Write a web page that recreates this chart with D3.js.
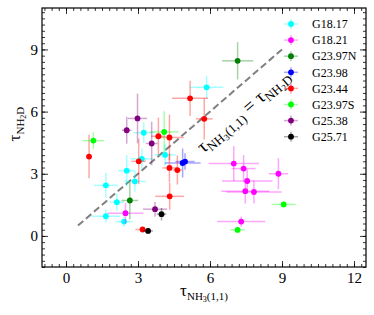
<!DOCTYPE html>
<html>
<head>
    <script src="https://d3js.org/d3.v7.min.js"></script>
    <style>
        body { margin: 0; background: #fff; }
        text { font-family: "Liberation Serif", "Times New Roman", Times, serif; }
    </style>
</head>
<body>
    <svg width="374" height="315"></svg>
    <script>

        // each point: [tauNH3, tauNH2D, xerr, yerr]
        const G18_17 = [[5.86, 7.17, 0.7, 0.55], [3.24, 4.98, 0.43, 0.5], [3.16, 3.72, 0.47, 0.5], [4.13, 3.91, 0.45, 0.55],
            [2.53, 3.15, 0.35, 0.75], [2.87, 2.63, 0.45, 0.5], [1.66, 2.44, 0.5, 0.6], [2.12, 1.63, 0.3, 0.4],
            [1.66, 0.95, 0.6, 0.3], [2.42, 0.69, 0.35, 0.25]];
        const G18_21 = [[2.48, 1.10, 0.75, 0.5], [6.99, 3.49, 1.05, 0.85], [7.40, 3.25, 0.5, 0.65], [7.55, 2.65, 1.05, 0.55],
            [7.47, 2.16, 1.0, 0.6], [7.83, 2.12, 1.15, 0.55], [8.85, 3.0, 0.4, 0.75], [7.30, 0.69, 1.0, 0.25]];
        const G23_97N = [[7.15, 8.45, 0.65, 0.9], [2.66, 1.71, 0.35, 0.9]];
        const G23_98 = [[4.86, 3.52, 0.75, 0.7], [4.96, 3.59, 0.4, 0.4]];
        const G23_44 = [[5.17, 6.64, 0.75, 0.85], [5.76, 5.65, 0.35, 1.0], [3.85, 4.81, 0.3, 0.9], [4.31, 4.75, 0.6, 1.1],
            [0.96, 3.83, 0.1, 1.05], [3.03, 3.60, 0.3, 1.1], [4.31, 3.28, 0.3, 0.7], [4.64, 3.18, 0.2, 0.7],
            [4.32, 1.91, 0.6, 0.65], [3.19, 0.31, 0.3, 0.1]];
        const G23_97S = [[1.14, 4.60, 0.45, 0.4], [4.09, 5.02, 0.6, 1.0], [9.07, 1.52, 0.5, 0.15], [7.15, 0.29, 0.3, 0.1]];
        const G25_38 = [[2.98, 5.67, 0.4, 1.2], [2.53, 5.10, 0.2, 0.65], [3.57, 4.46, 0.25, 1.05], [3.71, 1.29, 0.5, 0.35]];
        const G25_71 = [[3.98, 1.05, 0.2, 0.3], [3.42, 0.24, 0.2, 0.1]];

        const names = ["G18.17", "G18.21", "G23.97N", "G23.98", "G23.44", "G23.97S", "G25.38", "G25.71"];
        const colors = ["#00ffff", "#ff00ff", "#008000", "#0000ff", "#ff0000", "#00ff00", "#800080", "#000000"];
        const seriesData = [G18_17, G18_21, G23_97N, G23_98, G23_44, G23_97S, G25_38, G25_71];

        const xTicks = [0, 3, 6, 9, 12];
        const yTicks = [0, 3, 6, 9];
        const oneToOne = [0.5, 9];

        const svg = d3.select("svg"),
            margin = { top: 8, right: 8, bottom: 48, left: 42 },
            width = +svg.attr("width") - margin.left - margin.right,
            height = +svg.attr("height") - margin.top - margin.bottom,
            g = svg.append("g").attr("transform", "translate(" + margin.left + "," + margin.top + ")");

        const x = d3.scaleLinear().domain([-1, 12.5]).range([0, width]);
        const y = d3.scaleLinear().domain([-1.5, 11]).range([height, 0]);

        const xMinor = d3.range(-0.9, 12.5, 0.3).map(v => +v.toFixed(2));
        const yMinor = d3.range(-1.5, 11, 0.3).map(v => +v.toFixed(2));

        // ticks on all four sides, pointing inward
        function addAxis(axis, tr, vals, size, fmt) {
            const a = g.append("g").attr("transform", tr)
                .call(axis.tickValues(vals).tickSize(size).tickPadding(5).tickFormat(fmt));
            a.attr("font-family", null);
            a.select(".domain").remove();
            a.selectAll("line").attr("stroke", "#000").attr("stroke-width", 0.8);
            a.selectAll("text").style("font-size", "15px").attr("fill", "#000");
            return a;
        }
        addAxis(d3.axisBottom(x), "translate(0," + height + ")", xMinor, -3, "");
        addAxis(d3.axisTop(x), "translate(0,0)", xMinor, -3, "");
        addAxis(d3.axisLeft(y), "translate(0,0)", yMinor, -3, "");
        addAxis(d3.axisRight(y), "translate(" + width + ",0)", yMinor, -3, "");
        addAxis(d3.axisBottom(x), "translate(0," + height + ")", xTicks, -6, d3.format("d"))
            .selectAll("text").attr("y", 5);
        addAxis(d3.axisTop(x), "translate(0,0)", xTicks, -6, "");
        addAxis(d3.axisLeft(y), "translate(0,0)", yTicks, -6, d3.format("d"))
            .selectAll("text").attr("x", -4);
        addAxis(d3.axisRight(y), "translate(" + width + ",0)", yTicks, -6, "");

        g.append("rect")
            .attr("width", width).attr("height", height)
            .attr("fill", "none").attr("stroke", "#000").attr("stroke-width", 1.2);

        // 1:1 line
        g.append("line")
            .attr("x1", x(oneToOne[0])).attr("y1", y(oneToOne[0]))
            .attr("x2", x(oneToOne[1])).attr("y2", y(oneToOne[1]))
            .attr("stroke", "#808080").attr("stroke-width", 2)
            .attr("stroke-dasharray", "7,3.5");

        // helper for text with subscripts: parts = [text, size, dy]
        function richText(sel, parts) {
            parts.forEach(function(p) {
                sel.append("tspan").style("font-size", p[1] + "px").attr("dy", p[2]).text(p[0]);
            });
        }

        const angle = -Math.atan2(y(0) - y(1), x(1) - x(0)) * 180 / Math.PI;
        const lbl = g.append("text")
            .attr("transform", "translate(" + x(7.55) + "," + y(5.8) + ") rotate(" + angle + ")")
            .attr("text-anchor", "middle")
            .attr("fill", "#000");
        richText(lbl, [["\u03c4", 19, 0], ["NH", 13, 4], ["3", 9, 2], ["(1,1)", 13, -2], [" = \u03c4", 19, -4], ["NH", 13, 4], ["2", 9, 2], ["D", 13, -2]]);

        // error bars and points
        seriesData.forEach(function(pts, i) {
            const sg = g.append("g");
            pts.forEach(function(d) {
                sg.append("line")
                    .attr("x1", x(d[0] - d[2])).attr("x2", x(d[0] + d[2]))
                    .attr("y1", y(d[1])).attr("y2", y(d[1]))
                    .attr("stroke", colors[i]).attr("stroke-opacity", 0.35).attr("stroke-width", 1.5);
                sg.append("line")
                    .attr("x1", x(d[0])).attr("x2", x(d[0]))
                    .attr("y1", y(d[1] - d[3])).attr("y2", y(d[1] + d[3]))
                    .attr("stroke", colors[i]).attr("stroke-opacity", 0.35).attr("stroke-width", 1.5);
            });
            sg.selectAll("circle").data(pts).enter().append("circle")
                .attr("cx", d => x(d[0])).attr("cy", d => y(d[1]))
                .attr("r", 2.9).attr("fill", colors[i]);
        });

        // legend
        const leg = svg.append("g").attr("transform", "translate(291,24)");
        names.forEach(function(n, i) {
            const row = leg.append("g").attr("transform", "translate(0," + (i * 16.1) + ")");
            row.append("line").attr("x1", -7).attr("x2", 7)
                .attr("stroke", colors[i]).attr("stroke-opacity", 0.35).attr("stroke-width", 1.5);
            row.append("line").attr("y1", -5).attr("y2", 5)
                .attr("stroke", colors[i]).attr("stroke-opacity", 0.35).attr("stroke-width", 1.5);
            row.append("circle").attr("r", 2.9).attr("fill", colors[i]);
            row.append("text").attr("x", 21).attr("dy", "0.35em")
                .style("font-size", "12px").attr("fill", "#000").text(n);
        });

        // axis labels
        const xl = svg.append("text")
            .attr("x", margin.left + x(5.75)).attr("y", 296)
            .attr("text-anchor", "middle").attr("fill", "#000");
        richText(xl, [["\u03c4", 17, 0], ["NH", 11, 4], ["3", 8, 2], ["(1,1)", 11, -2]]);

        const yl = svg.append("text")
            .attr("transform", "translate(20," + (margin.top + y(5.4)) + ") rotate(-90)")
            .attr("text-anchor", "middle").attr("fill", "#000");
        richText(yl, [["\u03c4", 17, 0], ["NH", 11, 4], ["2", 8, 2], ["D", 11, -2]]);

    </script>
</body>
</html>
